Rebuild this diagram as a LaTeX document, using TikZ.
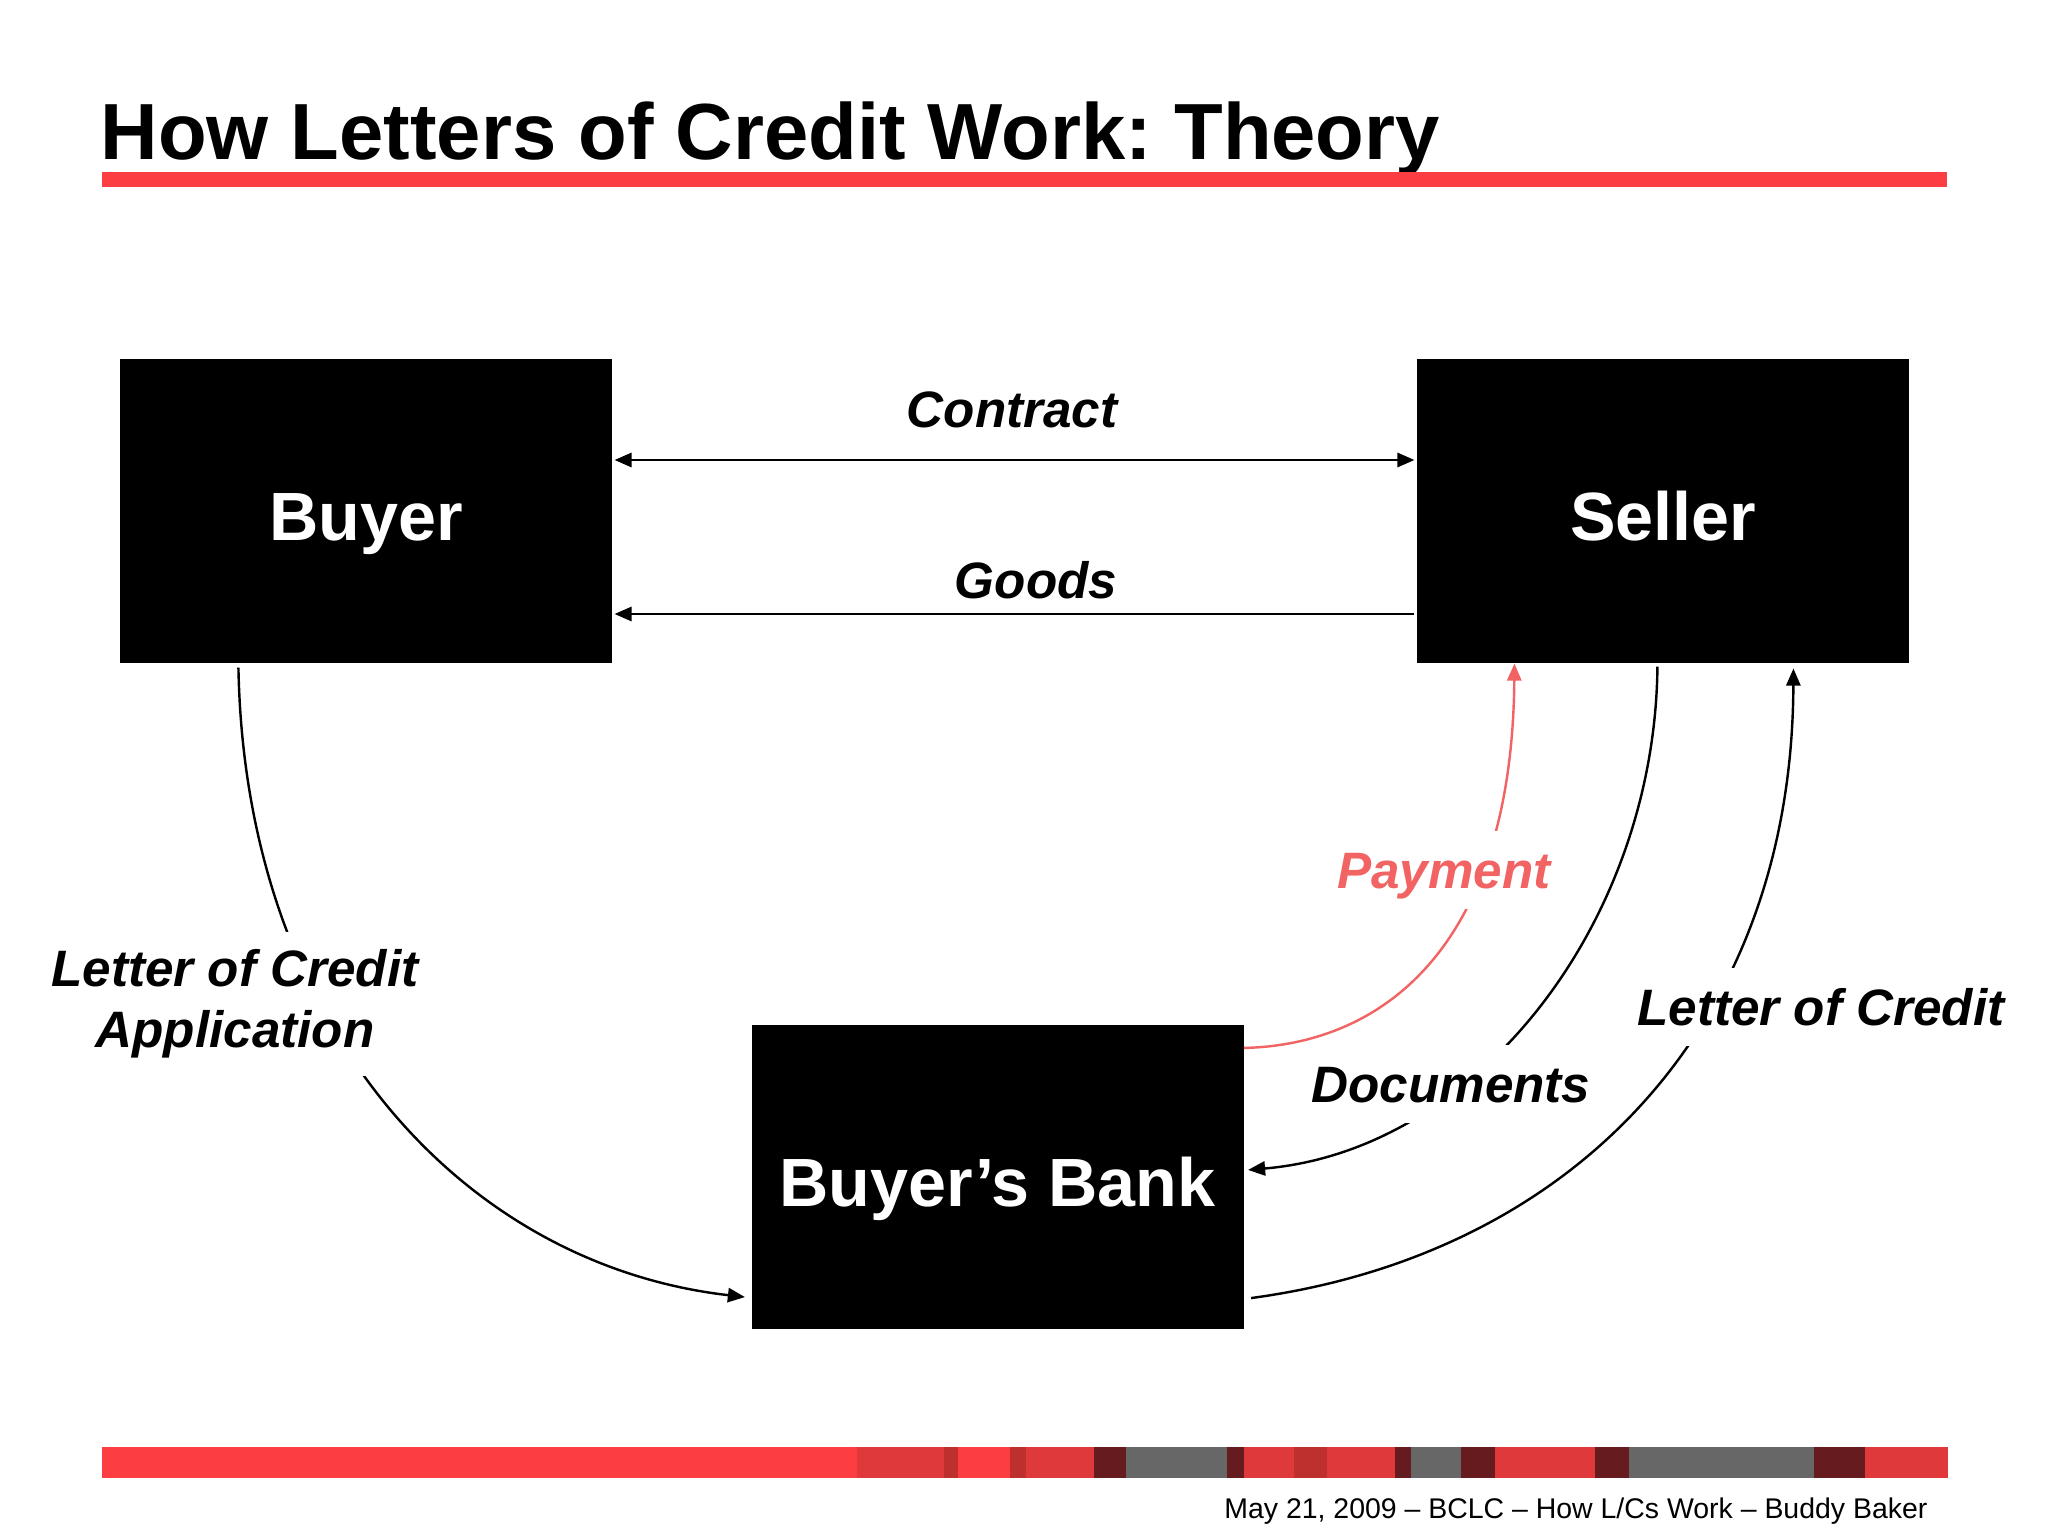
\documentclass[tikz,border=0pt]{standalone}
\usepackage{fontspec}
\setmainfont{Liberation Sans}
\usetikzlibrary{arrows.meta,calc}
\frenchspacing
\definecolor{brightred}{RGB}{252,61,65}
\definecolor{midred}{RGB}{224,57,59}
\definecolor{darkred}{RGB}{190,48,46}
\definecolor{maroonbar}{RGB}{102,28,30}
\definecolor{bargray}{RGB}{103,103,103}
\definecolor{payred}{RGB}{242,100,100}
\tikzset{
  party/.style={fill=black, text=white, font=\fontsize{24}{29}\selectfont\bfseries,
    minimum width={492*0.3515625pt}, minimum height={304*0.3515625pt}, inner sep=0pt,
    text height=23pt, text depth=2pt},
  conn/.style={line width=0.85pt},
  >={Triangle[length=6pt,width=5pt]},
  lbl/.style={font=\fontsize{18}{21.6}\selectfont\bfseries\itshape, inner xsep=7.2pt,
    inner ysep=3.6pt, text height=16.3pt, text depth=3.8pt, anchor=base},
  mask/.style={fill=white},
  lbltwo/.style={fill=white, font=\fontsize{18}{21.6}\selectfont\bfseries\itshape,
    align=center, inner xsep=7.2pt, inner ysep=6pt}
}
\begin{document}
\begin{tikzpicture}[x=0.3515625pt,y=-0.3515625pt]
\useasboundingbox[fill=white] (0,0) rectangle (2048,1536);
% title
\node[anchor=base west, inner sep=0pt, font=\fontsize{28}{34}\selectfont\bfseries] (title) at (100,160) {How Letters of Credit Work: Theory};
\fill[brightred] (102,172) rectangle (1947,187);
% bottom bar
\foreach \a/\b/\c in {102/857/brightred, 857/944/midred, 944/958/darkred, 958/1010/brightred,
  1010/1026/darkred, 1026/1094/midred, 1094/1126/maroonbar, 1126/1227/bargray,
  1227/1244/maroonbar, 1244/1294/midred, 1294/1327/darkred, 1327/1395/midred,
  1395/1411/maroonbar, 1411/1461/bargray, 1461/1495/maroonbar, 1495/1595/midred,
  1595/1629/maroonbar, 1629/1814/bargray, 1814/1865/maroonbar, 1865/1948/midred}
  \fill[\c] (\a,1447) rectangle (\b,1478);
\node[anchor=base east, inner sep=0pt, font=\fontsize{10}{12}\selectfont] (footer) at (1928,1518) {May 21, 2009 – BCLC – How L/Cs Work – Buddy Baker};
% parties
\node[party] (buyer) at (366,511) {Buyer};
\node[party] (seller) at (1663,511) {Seller};
\node[party] (bank) at (997.5,1176.5) {Buyer’s Bank};
% connectors
\draw[conn,<->] ($(buyer.east)+(2,-51)$) -- ($(seller.west)+(-2,-51)$);
\draw[conn,->] ($(seller.west)+(-2,103)$) -- ($(buyer.east)+(2,103)$);
\draw[conn,->] ($(buyer.south west)+(119,4)$) .. controls (245,1030) and (465,1265) .. ($(bank.south west)+(-6,-32)$);
\draw[conn,payred,->] ($(bank.north east)+(0,24)$) .. controls (1380,1045) and (1512,950) .. ($(seller.south west)+(98,0)$);
\draw[conn,->] ($(seller.south west)+(241,3)$) .. controls (1655,920) and (1480,1150) .. ($(bank.north east)+(4,146)$);
\draw[conn,->] ($(bank.south east)+(7,-31)$) .. controls (1570,1255) and (1792,1030) .. ($(seller.south west)+(377,5)$);
% labels
\node[lbl] (lcontract) at (1012,428) {Contract};
\node[lbl] (lgoods) at (1036,598) {Goods};
\node[lbl, mask, text=payred] (lpay) at (1444,888) {Payment};
\node[lbl, mask] (ldocs) at (1451,1102) {Documents};
\node[lbl, mask] (llc) at (1821,1025) {Letter of Credit};
\node[lbltwo] (lapp) at (235,1004) {Letter of Credit\\Application};
\end{tikzpicture}
\end{document}
